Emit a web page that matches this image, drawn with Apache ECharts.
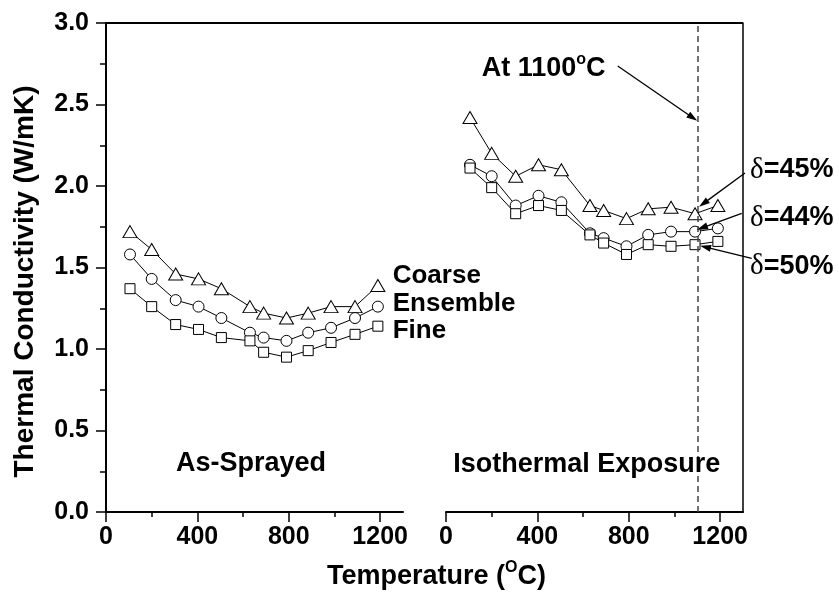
<!DOCTYPE html>
<html><head><meta charset="utf-8">
<script src="https://cdn.jsdelivr.net/npm/echarts@6/dist/echarts.min.js"></script>
<style>html,body{margin:0;padding:0;background:#fff}#c{width:839px;height:598px}</style>
</head><body><div id="c"></div>
<script>
// ---- data ----
const temperatureC = [105, 200, 305, 405, 505, 630, 690, 790, 885, 985, 1090, 1190];
const asSprayedCoarse   = [1.72, 1.61, 1.46, 1.43, 1.37, 1.26, 1.22, 1.19, 1.22, 1.26, 1.26, 1.39];
const asSprayedEnsemble = [1.58, 1.43, 1.30, 1.26, 1.19, 1.10, 1.07, 1.05, 1.10, 1.13, 1.19, 1.26];
const asSprayedFine     = [1.37, 1.26, 1.15, 1.12, 1.07, 1.05, 0.98, 0.95, 0.99, 1.04, 1.09, 1.14];
const exposedCoarse     = [2.42, 2.20, 2.06, 2.13, 2.10, 1.88, 1.85, 1.80, 1.86, 1.87, 1.83, 1.88];
const exposedEnsemble   = [2.13, 2.06, 1.88, 1.94, 1.90, 1.71, 1.68, 1.63, 1.70, 1.72, 1.72, 1.74];
const exposedFine       = [2.11, 1.99, 1.83, 1.88, 1.85, 1.70, 1.65, 1.58, 1.64, 1.63, 1.64, 1.66];
const xTickValues = [0, 400, 800, 1200];
const xMinorTickValues = [200, 600, 1000];
const inspectedTemperature = 1100;
const seriesNames = ['Coarse', 'Ensemble', 'Fine'];
const porosityLabels = ['\u03b4=45%', '\u03b4=44%', '\u03b4=50%'];

// ---- chart ----
const FONT = "'Liberation Sans', Arial, Helvetica, sans-serif";
const BOLD = (s) => 'bold ' + s + 'px ' + FONT;
const grids = [
  {left: 106, top: 23, width: 297, height: 489},
  {left: 446, top: 23, width: 297, height: 489}
];
const pair = (xs, ys) => xs.map((x, i) => [x, ys[i]]);

function xAxesFor(gi) {
  return [
    {type: 'value', gridIndex: gi, min: 0, max: 1300, position: 'bottom',
     axisLine: {show: true, onZero: false, lineStyle: {color: '#000', width: 2}},
     axisTick: {show: true, customValues: xTickValues, length: 10, lineStyle: {color: '#000', width: 1.5}},
     axisLabel: {show: true, customValues: xTickValues, margin: 13, fontSize: 25, fontWeight: 'bold',
                 color: '#000', fontFamily: FONT, hideOverlap: false, formatter: v => String(v)},
     splitLine: {show: false}},
    {type: 'value', gridIndex: gi, min: 0, max: 1300, position: 'bottom',
     axisLine: {show: false, onZero: false},
     axisTick: {show: true, customValues: xMinorTickValues, length: 5, lineStyle: {color: '#000', width: 1.5}},
     axisLabel: {show: false}, splitLine: {show: false}}
  ];
}

const symbols = [['triangle', [14, 12]], ['circle', 11], ['rect', 10]];
function mkSeries(name, xi, yi, ys, k, extra) {
  return Object.assign({
    name: name, type: 'line', xAxisIndex: xi, yAxisIndex: yi,
    data: pair(temperatureC, ys),
    symbol: symbols[k][0], symbolSize: symbols[k][1], showSymbol: true,
    lineStyle: {color: '#000', width: 1},
    itemStyle: {color: '#fff', borderColor: '#000', borderWidth: 1},
    emphasis: {disabled: true}, z: 3
  }, extra || {});
}

const chart = echarts.init(document.getElementById('c'), null, {renderer: 'canvas'});
const option = {
  animation: false,
  backgroundColor: '#fff',
  grid: grids.map(g => Object.assign({outerBoundsMode: 'none', containLabel: false}, g)),
  xAxis: xAxesFor(0).concat(xAxesFor(1)),
  yAxis: [
    {type: 'value', gridIndex: 0, min: 0, max: 3, interval: 0.5, position: 'left',
     axisLine: {show: true, onZero: false, lineStyle: {color: '#000', width: 2}},
     axisTick: {show: true, length: 10, lineStyle: {color: '#000', width: 1.5}},
     minorTick: {show: true, splitNumber: 2, length: 6, lineStyle: {color: '#000', width: 1.5}},
     axisLabel: {margin: 17, fontSize: 25, fontWeight: 'bold', color: '#000', fontFamily: FONT,
                 formatter: v => v.toFixed(1)},
     splitLine: {show: false}, minorSplitLine: {show: false}},
    {type: 'value', gridIndex: 1, min: 0, max: 3, interval: 0.5, position: 'right',
     axisLine: {show: true, onZero: false, lineStyle: {color: '#000', width: 1.5}},
     axisTick: {show: false}, axisLabel: {show: false}, splitLine: {show: false}}
  ],
  series: [
    mkSeries('As-Sprayed ' + seriesNames[0], 0, 0, asSprayedCoarse, 0),
    mkSeries('As-Sprayed ' + seriesNames[1], 0, 0, asSprayedEnsemble, 1),
    mkSeries('As-Sprayed ' + seriesNames[2], 0, 0, asSprayedFine, 2),
    mkSeries('Exposed ' + seriesNames[0], 2, 1, exposedCoarse, 0, {
      markLine: {silent: true, symbol: 'none', label: {show: false},
                 lineStyle: {type: [6, 4], color: '#444', width: 1.5},
                 data: [{xAxis: inspectedTemperature}]}
    }),
    mkSeries('Exposed ' + seriesNames[1], 2, 1, exposedEnsemble, 1),
    mkSeries('Exposed ' + seriesNames[2], 2, 1, exposedFine, 2)
  ]
};
chart.setOption(option);

// ---- annotations ----
const toPx = (x, y) => chart.convertToPixel({xAxisIndex: 2, yAxisIndex: 1}, [x, y]);
function txt(x, y, text, size, align, extra) {
  return Object.assign({type: 'text', x: x, y: y, z: 10,
    style: {text: text, font: BOLD(size), fill: '#000',
            align: align || 'left', verticalAlign: 'middle',
            textAlign: align || 'left', textVerticalAlign: 'middle'}}, extra || {});
}
function arrow(from, to) {
  const dx = to[0] - from[0], dy = to[1] - from[1], L = Math.hypot(dx, dy);
  const ux = dx / L, uy = dy / L, head = 11, half = 3.5;
  const bx = to[0] - ux * head, by = to[1] - uy * head;
  return [
    {type: 'line', z: 10, shape: {x1: from[0], y1: from[1], x2: bx + ux * 2, y2: by + uy * 2},
     style: {stroke: '#000', lineWidth: 1.3}},
    {type: 'polygon', z: 10, shape: {points: [to, [bx - uy * half, by + ux * half], [bx + uy * half, by - ux * half]]},
     style: {fill: '#000'}}
  ];
}
const last = temperatureC.length - 2; // point at 1090 °C
const pTri = toPx(temperatureC[last], exposedCoarse[last]);
const pCir = toPx(temperatureC[last], exposedEnsemble[last]);
const pSq  = toPx(temperatureC[last], exposedFine[last]);
const pMark = toPx(inspectedTemperature, 2.4);

const rich = {
  a: {font: BOLD(27), fill: '#000'},
  s: {font: BOLD(16), fill: '#000', padding: [0, 0, 18, 0]},
  d: {font: "29px 'Liberation Serif', 'DejaVu Serif', serif", fill: '#000'}
};
const gLeft = grids[0].left, gRight = grids[1].left + grids[1].width, gTop = grids[0].top;

const graphics = [
  {type: 'line', z: 5, shape: {x1: gLeft, y1: gTop, x2: gRight, y2: gTop}, style: {stroke: '#000', lineWidth: 2}},
  txt(25.5, 281.5, 'Thermal Conductivity (W/mK)', 28, 'center', {rotation: Math.PI / 2}),
  {type: 'text', x: 436.5, y: 577, z: 10,
   style: {text: '{a|Temperature (}{s|O}{a|C)}', rich: rich, align: 'center', verticalAlign: 'middle',
           textAlign: 'center', textVerticalAlign: 'middle'}},
  txt(392.7, 275.5, seriesNames[0], 26),
  txt(392.7, 303.5, seriesNames[1], 26),
  txt(392.7, 331, seriesNames[2], 26),
  txt(176, 463.5, 'As-Sprayed', 27),
  txt(453.3, 465, 'Isothermal Exposure', 27),
  {type: 'text', x: 481.7, y: 68.8, z: 10,
   style: {text: '{a|At 1100}{s|o}{a|C}', rich: rich, align: 'left', verticalAlign: 'middle',
           textAlign: 'left', textVerticalAlign: 'middle'}},
  {type: 'text', x: 750, y: 170, z: 10,
   style: {text: '{d|\u03b4}{a|' + porosityLabels[0].slice(1) + '}', rich: rich, align: 'left', verticalAlign: 'middle'}},
  {type: 'text', x: 750, y: 218, z: 10,
   style: {text: '{d|\u03b4}{a|' + porosityLabels[1].slice(1) + '}', rich: rich, align: 'left', verticalAlign: 'middle'}},
  {type: 'text', x: 750, y: 266.5, z: 10,
   style: {text: '{d|\u03b4}{a|' + porosityLabels[2].slice(1) + '}', rich: rich, align: 'left', verticalAlign: 'middle'}}
].concat(
  arrow([617.7, 66], pMark),
  arrow([745, 173], [pTri[0] + 4, pTri[1] - 7]),
  arrow([741.7, 213.3], [pCir[0] + 2, pCir[1] - 2]),
  arrow([751.7, 258.3], [pSq[0] + 5, pSq[1] + 1])
);
chart.setOption({graphic: {elements: graphics}});
</script>
</body></html>
